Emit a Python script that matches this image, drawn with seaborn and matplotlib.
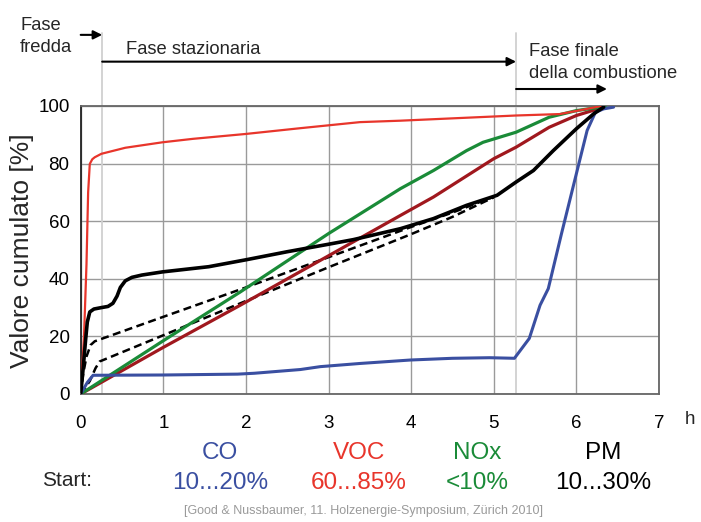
import numpy as np
import pandas as pd
import matplotlib
matplotlib.use("Agg")
import matplotlib.pyplot as plt
import seaborn as sns

# ---------------- data ----------------
co_x = [0, 0.08, 0.15, 1.0, 1.9, 2.1, 2.66, 2.9, 3.38, 3.99, 4.5, 4.95, 5.25, 5.43, 5.56, 5.66, 5.82, 5.98, 6.13, 6.23, 6.33, 6.45]
co_y = [0, 4, 6.5, 6.6, 6.9, 7.2, 8.5, 9.5, 10.6, 11.8, 12.4, 12.6, 12.4, 19.3, 30.8, 36.6, 55.7, 74.2, 91.5, 97.8, 99.0, 99.6]

voc_x = [0, 0.04, 0.07, 0.09, 0.11, 0.14, 0.17, 0.25, 0.54, 0.99, 1.36, 2.0, 2.66, 3.38, 3.87, 5.27, 5.8, 6.13, 6.3]
voc_y = [0, 20, 45, 70, 79.9, 81.5, 82.2, 83.4, 85.5, 87.4, 88.6, 90.3, 92.3, 94.4, 94.9, 96.7, 97.2, 99.0, 100]

voc2_x = [0, 1.0, 1.93, 3.0, 3.87, 4.27, 5.0, 5.27, 5.67, 6.0, 6.33]
voc2_y = [0, 16.2, 30.8, 48.0, 62.0, 68.4, 81.7, 85.7, 92.6, 96.7, 99.6]

nox_x = [0, 1.0, 1.93, 3.0, 3.87, 4.27, 4.67, 4.87, 5.27, 5.67, 6.0, 6.29, 6.35]
nox_y = [0, 18.5, 35.4, 55.7, 71.3, 77.6, 84.5, 87.4, 90.9, 96.1, 98.4, 99.6, 100]

pm_x = [0, 0.03, 0.06, 0.08, 0.11, 0.16, 0.25, 0.33, 0.39, 0.44, 0.48, 0.54, 0.62, 0.74, 0.99, 1.55, 2.0, 2.5, 3.0, 3.3, 3.87, 4.27, 4.67, 5.04, 5.27, 5.48, 5.72, 6.0, 6.21, 6.33]
pm_y = [0, 9, 19, 25, 28.5, 29.5, 30, 30.4, 31.5, 34, 37, 39.3, 40.5, 41.3, 42.4, 44.2, 46.6, 49.4, 52, 53.6, 57.4, 60.9, 65.5, 69, 73.6, 77.6, 84.5, 92.1, 97.3, 99.6]

pm_hi_x = [0, 0.03, 0.07, 0.12, 0.17, 1.0, 2.0, 3.0, 4.0, 4.5, 5.0]
pm_hi_y = [0, 7, 13, 17, 18.3, 26.8, 37, 47.5, 58, 63, 68.5]

pm_lo_x = [0, 0.05, 0.11, 0.18, 0.23, 1.0, 2.0, 3.0, 4.0, 4.5, 5.0]
pm_lo_y = [0, 2, 4.5, 9, 11.3, 20.4, 32.3, 44, 55.5, 61.5, 68.3]

phase_bounds = [0.26, 5.27]
phase_end = 6.37
x_ticks = [0, 1, 2, 3, 4, 5, 6, 7]
y_ticks = [0, 20, 40, 60, 80, 100]

species = ["CO", "VOC", "NOx", "PM"]
start_vals = ["10...20%", "60...85%", "<10%", "10...30%"]

# ---------------- style ----------------
sns.set_style("white")
plt.rcParams['font.family'] = ['Liberation Sans', 'DejaVu Sans']

BLUE = "#3A4FA1"
RED = "#E8352B"
DRED = "#A0181E"
GREEN = "#1A8B38"
BLACK = "#000000"

fig = plt.figure(figsize=(7.01, 5.22), dpi=100)
ax = fig.add_axes([80.7 / 701, 1 - 394 / 522, (659 - 80.7) / 701, (394 - 106) / 522])

ax.set_xlim(0, 7)
ax.set_ylim(0, 100)
ax.set_xticks(x_ticks)
ax.set_yticks(y_ticks)
ax.grid(True, color="#9a9a9a", lw=1.0)
ax.set_axisbelow(True)

# phase boundary lines (light gray) extending above the axes
for xb in phase_bounds:
    ax.plot([xb, xb], [0, 125.3], color="#d0d0d0", lw=1.3, clip_on=False, zorder=1)

def draw(x, y, color, lw, ls="-"):
    df = pd.DataFrame({"x": x, "y": y})
    sns.lineplot(data=df, x="x", y="y", ax=ax, color=color, lw=lw, linestyle=ls,
                 estimator=None, sort=False, zorder=3)

draw(pm_lo_x, pm_lo_y, BLACK, 1.8, (0, (3.2, 1.8)))
draw(pm_hi_x, pm_hi_y, BLACK, 1.8, (0, (3.2, 1.8)))
draw(voc2_x, voc2_y, DRED, 2.3)
draw(nox_x, nox_y, GREEN, 2.3)
draw(voc_x, voc_y, RED, 1.6)
draw(co_x, co_y, BLUE, 2.2)
draw(pm_x, pm_y, BLACK, 2.6)

ax.set_xlabel("")
ax.set_ylabel("")
ax.tick_params(axis="both", length=0, labelsize=13.5, colors="black")
ax.tick_params(axis="x", pad=15)
ax.tick_params(axis="y", pad=8)

fig.text(22 / 701, 1 - 251 / 522, "Valore cumulato [%]", fontsize=19, rotation=90,
         ha="center", va="center")

for s in ["left"]:
    ax.spines[s].set_color("#222222")
for s in ["bottom", "right", "top"]:
    ax.spines[s].set_color("#666666")
for s in ax.spines.values():
    s.set_linewidth(1.3)

# phase arrows
arrow_kw = dict(arrowstyle="-|>", color="black", lw=1.5, mutation_scale=13, shrinkA=0, shrinkB=0)
ax.annotate("", xy=(phase_bounds[0], 124.7), xytext=(0, 124.7), arrowprops=arrow_kw, annotation_clip=False)
ax.annotate("", xy=(phase_bounds[1], 115.4), xytext=(phase_bounds[0], 115.4), arrowprops=arrow_kw, annotation_clip=False)
ax.annotate("", xy=(phase_end, 105.9), xytext=(phase_bounds[1], 105.9), arrowprops=arrow_kw, annotation_clip=False)

fs_phase = 13.2
fig.text(20 / 701, 1 - 26 / 522, "Fase", fontsize=fs_phase, ha="left", va="center")
fig.text(20 / 701, 1 - 47 / 522, "fredda", fontsize=fs_phase, ha="left", va="center")
fig.text(126 / 701, 1 - 50 / 522, "Fase stazionaria", fontsize=fs_phase, ha="left", va="center")
fig.text(529 / 701, 1 - 52 / 522, "Fase finale", fontsize=fs_phase, ha="left", va="center")
fig.text(529 / 701, 1 - 73 / 522, "della combustione", fontsize=fs_phase, ha="left", va="center")

fig.text(690 / 701, 1 - 420 / 522, "h", fontsize=13.5, ha="center", va="center")

# bottom legend-like text
label_x = [220, 359, 477, 603]
label_col = [BLUE, RED, GREEN, BLACK]
for lx, sp, sv, c in zip(label_x, species, start_vals, label_col):
    fig.text(lx / 701, 1 - 453 / 522, sp, fontsize=17.5, color=c, ha="center", va="center")
    fig.text(lx / 701, 1 - 483 / 522, sv, fontsize=17.5, color=c, ha="center", va="center")
fig.text(42 / 701, 1 - 481 / 522, "Start:", fontsize=15, ha="left", va="center")

fig.text(363 / 701, 1 - 511 / 522, "[Good & Nussbaumer, 11. Holzenergie-Symposium, Zürich 2010]",
         fontsize=9, color="#9a9a9a", ha="center", va="center")

fig.savefig("out.png", dpi=100)
